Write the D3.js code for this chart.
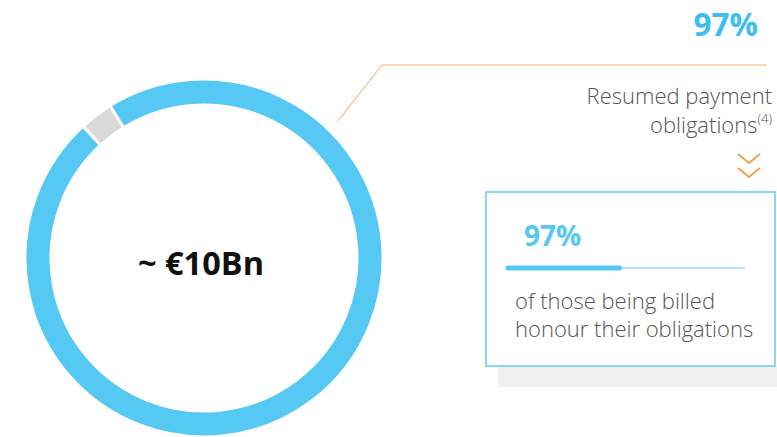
<!DOCTYPE html>
<html>
<head>
<meta charset="utf-8">
<script src="https://cdn.jsdelivr.net/npm/d3@7"></script>
<style>
  body { margin: 0; background: #fff; }
  svg { display: block; font-family: "Open Sans", "Noto Sans", sans-serif; }
</style>
</head>
<body>
<div id="chart"></div>
<script>
// dades del gràfic
const segments = ["Resumed", "Other"];
const segmentValues = [97, 3];
const segmentColors = ["#55c9f3", "#d9d9d9"];
const centerLabel = "~ €10Bn";
const headline = "97%";
const headlineLines = ["Resumed payment", "obligations"];
const headlineNote = "(4)";
const boxValue = "97%";
const boxBarFill = [47]; // part gruixuda de la barra, en % de la pista
const boxLines = ["of those being billed", "honour their obligations"];

const W = 777, H = 437;
const svg = d3.select("#chart").append("svg")
  .attr("width", W)
  .attr("height", H);

// donut
const cx = 204, cy = 258, outerR = 179, innerR = 153;
const startAngle = -31.7 * Math.PI / 180;

const pie = d3.pie()
  .sort(null)
  .startAngle(startAngle)
  .endAngle(startAngle + 2 * Math.PI)
  .value(d => d.value);

const arc = d3.arc()
  .innerRadius(innerR)
  .outerRadius(outerR);

const donut = svg.append("g")
  .attr("transform", `translate(${cx},${cy})`);

donut.selectAll("path")
  .data(pie(segments.map((s, i) => ({ name: s, value: segmentValues[i] }))))
  .enter()
  .append("path")
  .attr("d", arc)
  .attr("fill", (d, i) => segmentColors[i])
  .attr("stroke", "#fff")
  .attr("stroke-width", 3);

donut.append("text")
  .attr("x", -3)
  .attr("y", 17)
  .attr("text-anchor", "middle")
  .attr("font-size", 32.5)
  .attr("font-weight", 700)
  .attr("fill", "#111")
  .text(centerLabel);

// línia guia
svg.append("path")
  .attr("d", "M338,121 L382,65")
  .attr("fill", "none")
  .attr("stroke", "#f0a860")
  .attr("stroke-width", 1);
svg.append("line")
  .attr("x1", 382).attr("x2", 767)
  .attr("y1", 65).attr("y2", 65)
  .attr("stroke", "#f5cba0")
  .attr("stroke-width", 1.5);

// titular dret
svg.append("text")
  .attr("x", 758)
  .attr("y", 36)
  .attr("text-anchor", "end")
  .attr("font-size", 31.5)
  .attr("font-weight", 700)
  .attr("fill", "#3cbef0")
  .text(headline);

svg.append("text")
  .attr("x", 772)
  .attr("y", 104)
  .attr("text-anchor", "end")
  .attr("font-size", 22)
  .attr("font-weight", 300)
  .attr("fill", "#555")
  .text(headlineLines[0]);

const ob = svg.append("text")
  .attr("x", 772)
  .attr("y", 133)
  .attr("text-anchor", "end")
  .attr("font-size", 22)
  .attr("font-weight", 300)
  .attr("fill", "#555");
ob.append("tspan").text(headlineLines[1]);
ob.append("tspan")
  .attr("font-size", 13)
  .attr("dy", -10)
  .text(headlineNote);

// fletxes
const chev = svg.append("g")
  .attr("fill", "none")
  .attr("stroke", "#f0a050")
  .attr("stroke-width", 2);
[0, 14].forEach(off => {
  chev.append("path")
    .attr("d", `M738,${154 + off} L749,${163 + off} L760,${154 + off}`);
});

// caixa
const bx = 486, by = 192, bw = 289, bh = 174;
svg.append("rect")
  .attr("x", 498).attr("y", by + bh)
  .attr("width", W - 498).attr("height", 21)
  .attr("fill", "#f0f0f0");
svg.append("rect")
  .attr("x", bx).attr("y", by)
  .attr("width", bw).attr("height", bh)
  .attr("fill", "#fff")
  .attr("stroke", "#5ccdf5")
  .attr("stroke-width", 1.5);

svg.append("text")
  .attr("x", 524)
  .attr("y", 246)
  .attr("font-size", 28)
  .attr("font-weight", 700)
  .attr("fill", "#55c9f3")
  .text(boxValue);

const barX = d3.scaleLinear().domain([0, 100]).range([508, 745]);
svg.append("line")
  .attr("x1", barX(0)).attr("x2", barX(100))
  .attr("y1", 268).attr("y2", 268)
  .attr("stroke", "#55c9f3")
  .attr("stroke-width", 1);
svg.selectAll(".fillbar")
  .data(boxBarFill)
  .enter()
  .append("line")
  .attr("class", "fillbar")
  .attr("x1", barX(0)).attr("x2", d => barX(d))
  .attr("y1", 268).attr("y2", 268)
  .attr("stroke", "#55c9f3")
  .attr("stroke-width", 5)
  .attr("stroke-linecap", "round");

svg.selectAll(".boxline")
  .data(boxLines)
  .enter()
  .append("text")
  .attr("class", "boxline")
  .attr("x", 515)
  .attr("y", (d, i) => 309 + i * 28)
  .attr("font-size", 22)
  .attr("font-weight", 300)
  .attr("fill", "#555")
  .text(d => d);
</script>
</body>
</html>
